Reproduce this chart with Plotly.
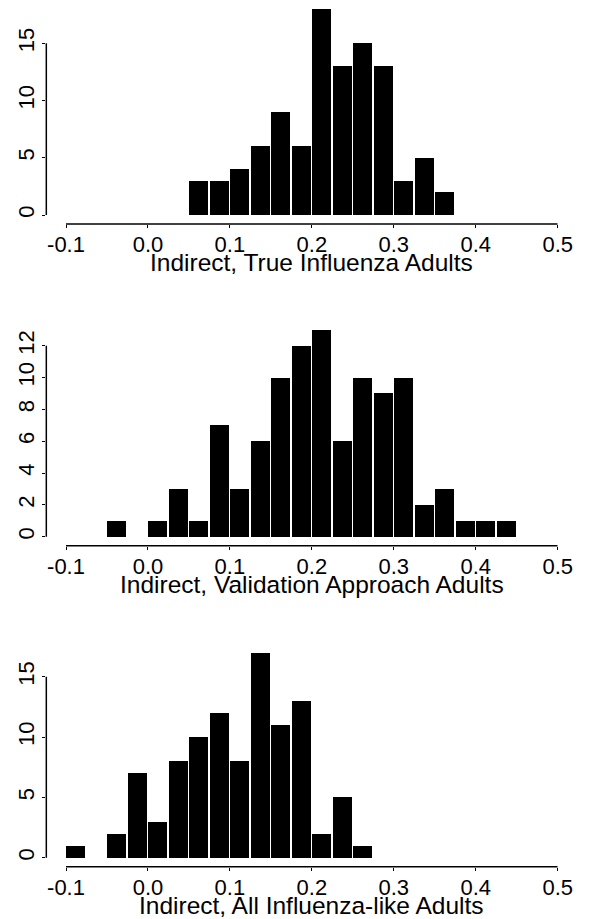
import plotly.graph_objects as go

# ---------------- data ----------------
bin_width = 0.025

true_bins = [0.050, 0.075, 0.100, 0.125, 0.150, 0.175, 0.200, 0.225, 0.250,
             0.275, 0.300, 0.325, 0.350]
true_counts = [3, 3, 4, 6, 9, 6, 18, 13, 15, 13, 3, 5, 2]

valid_bins = [-0.050, -0.025, 0.000, 0.025, 0.050, 0.075, 0.100, 0.125, 0.150,
              0.175, 0.200, 0.225, 0.250, 0.275, 0.300, 0.325, 0.350, 0.375,
              0.400, 0.425]
valid_counts = [1, 0, 1, 3, 1, 7, 3, 6, 10, 12, 13, 6, 10, 9, 10, 2, 3, 1, 1, 1]

ili_bins = [-0.100, -0.075, -0.050, -0.025, 0.000, 0.025, 0.050, 0.075, 0.100,
            0.125, 0.150, 0.175, 0.200, 0.225, 0.250]
ili_counts = [1, 0, 2, 7, 3, 8, 10, 12, 8, 17, 11, 13, 2, 5, 1]

x_ticks = [-0.1, 0.0, 0.1, 0.2, 0.3, 0.4, 0.5]
x_tick_labels = ["-0.1", "0.0", "0.1", "0.2", "0.3", "0.4", "0.5"]

y_ticks_true = [0, 5, 10, 15]
y_ticks_valid = [0, 2, 4, 6, 8, 10, 12]
y_ticks_ili = [0, 5, 10, 15]

titles = ["Indirect, True Influenza Adults",
          "Indirect, Validation Approach Adults",
          "Indirect, All Influenza-like Adults"]

# ---------------- layout geometry (pixels) ----------------
W, H = 601, 919
FONT = "Liberation Sans, Arial, Helvetica, sans-serif"
X_LEFT_PX = 47.5     # y-axis line
X_M01_PX = 67.7      # position of -0.1
X_05_PX = 572.0      # position of 0.5
px_per_unit = (X_05_PX - X_M01_PX) / 0.6
x_range = [-0.1 - (X_M01_PX - X_LEFT_PX) / px_per_unit, 0.5]

# per panel: (top px, y=0 px, x-axis line px, px per count)
panels = [
    (0.0, 215.0, 224.0, 171.7 / 15),
    (320.0, 536.7, 545.7, 191.0 / 12),
    (640.0, 857.7, 866.7, 181.0 / 15),
]

series = [(true_bins, true_counts, y_ticks_true),
          (valid_bins, valid_counts, y_ticks_valid),
          (ili_bins, ili_counts, y_ticks_ili)]

fig = go.Figure()
gap = 1.6 / px_per_unit

for i, ((bins, counts, yticks), (top, zero, axis, ppu)) in enumerate(zip(series, panels)):
    n = "" if i == 0 else str(i + 1)
    fig.add_trace(go.Bar(
        x=bins, y=counts, width=bin_width - gap, offset=gap / 2,
        marker=dict(color="black", line=dict(width=0)),
        xaxis="x" + n, yaxis="y" + n, showlegend=False, hoverinfo="x+y",
    ))
    ybottom = -(axis - zero) / ppu
    ytop = (zero - top) / ppu
    fig.layout["xaxis" + n] = dict(
        domain=[X_LEFT_PX / W, X_05_PX / W], range=x_range, anchor="y" + n,
        tickvals=x_ticks, ticktext=x_tick_labels, ticks="outside", ticklen=3,
        tickwidth=1.2, tickcolor="black", showline=False, showgrid=False,
        zeroline=False, tickfont=dict(family=FONT, size=22, color="black"),
        ticklabelstandoff=-2,
    )
    fig.layout["yaxis" + n] = dict(
        domain=[1 - axis / H, 1 - top / H], range=[ybottom, ytop], anchor="x" + n,
        tickvals=yticks, ticktext=[str(v) for v in yticks], ticks="outside",
        ticklen=3, tickwidth=1.2, tickcolor="black", showline=False,
        showgrid=False, zeroline=False, tickangle=-90,
        tickfont=dict(family=FONT, size=22, color="black"),
        ticklabelstandoff=0,
    )
    # axis lines spanning only the tick range (R style)
    fig.add_shape(type="line", xref="x" + n, yref=("y" + n) + " domain",
                  x0=x_ticks[0], x1=x_ticks[-1], y0=0, y1=0,
                  line=dict(color="black", width=1.5))
    fig.add_shape(type="line", xref=("x" + n) + " domain", yref="y" + n,
                  x0=0, x1=0, y0=yticks[0], y1=yticks[-1],
                  line=dict(color="black", width=1.5))
    fig.add_annotation(
        text=titles[i], xref="paper", yref="paper",
        x=((X_M01_PX + X_05_PX) / 2) / W, y=1 - (axis + 38.5) / H,
        xanchor="center", yanchor="middle", showarrow=False,
        font=dict(family=FONT, size=24.5, color="black"),
    )

fig.update_layout(
    width=W, height=H, margin=dict(l=0, r=0, t=0, b=0),
    paper_bgcolor="white", plot_bgcolor="white", bargap=0,
)

fig.write_html(
    "out.html",
    config={"displayModeBar": False},
    post_script="document.body.style.margin='0';document.body.style.overflow='hidden';",
)
